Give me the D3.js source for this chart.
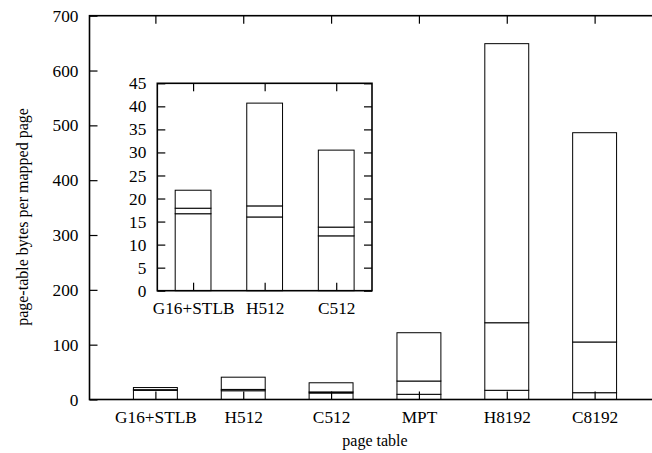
<!DOCTYPE html>
<html>
<head>
<meta charset="utf-8">
<script src="https://cdn.jsdelivr.net/npm/d3@7"></script>
<style>
  html, body { margin: 0; padding: 0; background: #fff; overflow: hidden; }
  svg { display: block; }
</style>
</head>
<body>
<svg id="chart" width="652" height="453" font-family="Liberation Serif, Times New Roman, serif"></svg>
<script>
// Page tables and their per-mapped-page cost, split into three stacked parts
const categories = ["G16+STLB", "H512", "C512", "MPT", "H8192", "C8192"];
const baseBytes   = [16.7, 16.0, 11.9, 9.5, 16.8, 12.4];
const middleBytes = [1.2, 2.4, 1.9, 24.2, 123.2, 92.5];
const upperBytes  = [3.9, 22.3, 16.7, 88.1, 509.0, 381.7];

const yTicksMain  = [0, 100, 200, 300, 400, 500, 600, 700];
const yTicksInset = [0, 5, 10, 15, 20, 25, 30, 35, 40, 45];
const insetCount = 3; // the zoomed panel shows the first three tables

const rows = categories.map((c, i) => ({
  idx: i, name: c, base: baseBytes[i], middle: middleBytes[i], upper: upperBytes[i]
}));
const stack = d3.stack().keys(["base", "middle", "upper"]);
const series = stack(rows);

const svg = d3.select("#chart");
const FONT = 17.3;
const TITLE_FONT = 16;
const SERIF = "Liberation Serif, Times New Roman, serif";

function drawPanel(g, rowsSubset, xDomain, xRange, yDomain, yRange, yTicks, barWidthUnits) {
  const x = d3.scaleLinear().domain(xDomain).range(xRange);
  const y = d3.scaleLinear().domain(yDomain).range(yRange);
  const idxs = rowsSubset.map(r => r.idx);
  const bw = x(barWidthUnits) - x(0);

  // white backdrop
  g.append("rect")
    .attr("x", xRange[0]).attr("y", yRange[1])
    .attr("width", xRange[1] - xRange[0]).attr("height", yRange[0] - yRange[1])
    .attr("fill", "#fff");

  // stacked bars
  series.forEach(layer => {
    g.append("g").selectAll("rect")
      .data(layer.filter(d => idxs.includes(d.data.idx)))
      .join("rect")
      .attr("x", d => x(d.data.idx) - bw / 2)
      .attr("width", bw)
      .attr("y", d => y(d[1]))
      .attr("height", d => y(d[0]) - y(d[1]))
      .attr("fill", "#fff")
      .attr("stroke", "#000")
      .attr("stroke-width", 1);
  });

  // axes with inward ticks
  const left = d3.axisLeft(y).tickValues(yTicks).tickSize(-8).tickPadding(11).tickFormat(d3.format("d"));
  const right = d3.axisRight(y).tickValues(yTicks).tickSize(-8).tickFormat("");
  const bottom = d3.axisBottom(x).tickValues(idxs).tickSize(-8).tickPadding(11.5)
    .tickFormat(i => categories[i]);
  const top = d3.axisTop(x).tickValues(idxs).tickSize(-8).tickFormat("");

  const styleAxis = a => {
    a.attr("font-family", SERIF).attr("font-size", FONT);
    a.select(".domain").remove();
    a.selectAll(".tick line").attr("stroke", "#000").attr("stroke-width", 1.2);
    a.selectAll("text").attr("fill", "#000");
  };
  g.append("g").attr("transform", `translate(${xRange[0]},0)`).call(left).call(styleAxis);
  g.append("g").attr("transform", `translate(${xRange[1]},0)`).call(right).call(styleAxis);
  g.append("g").attr("transform", `translate(0,${yRange[0]})`).call(bottom).call(styleAxis);
  g.append("g").attr("transform", `translate(0,${yRange[1]})`).call(top).call(styleAxis);

  // frame
  g.append("rect")
    .attr("x", xRange[0]).attr("y", yRange[1])
    .attr("width", xRange[1] - xRange[0]).attr("height", yRange[0] - yRange[1])
    .attr("fill", "none").attr("stroke", "#000").attr("stroke-width", 1.6);
}

// main panel
const mainG = svg.append("g");
drawPanel(mainG, rows, [-0.75, 5.75], [89.5, 660.5], [0, 700], [399.5, 15.7], yTicksMain, 0.5);

// inset panel
const insetG = svg.append("g");
drawPanel(insetG, rows.slice(0, insetCount), [-0.5, 2.5], [157.3, 372], [0, 45], [290.7, 83.3], yTicksInset, 0.5);

// axis titles
svg.append("text")
  .attr("x", 375).attr("y", 446)
  .attr("text-anchor", "middle")
  .attr("font-size", TITLE_FONT)
  .text("page table");

svg.append("text")
  .attr("transform", "translate(28,217) rotate(-90)")
  .attr("text-anchor", "middle")
  .attr("font-size", TITLE_FONT)
  .text("page-table bytes per mapped page");
</script>
</body>
</html>
